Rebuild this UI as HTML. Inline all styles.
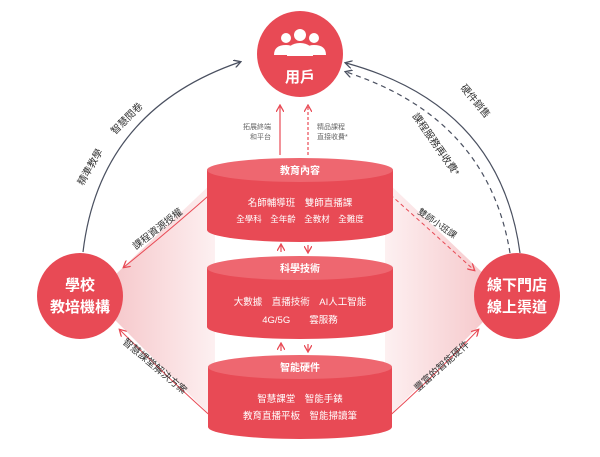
<!DOCTYPE html>
<html><head><meta charset="utf-8"><style>
body{margin:0;background:#fff;}
svg{display:block;font-family:"Liberation Sans","Noto Sans CJK TC",sans-serif;}
</style></head><body>
<svg width="600" height="457" viewBox="0 0 600 457" xmlns="http://www.w3.org/2000/svg">
<defs>
<linearGradient id="gl" x1="0" x2="1"><stop offset="0" stop-color="#f6c9cc"/><stop offset="1" stop-color="#fdf0f1"/></linearGradient>
<linearGradient id="gr" x1="1" x2="0"><stop offset="0" stop-color="#f6c9cc"/><stop offset="1" stop-color="#fdf0f1"/></linearGradient>
<marker id="ad" markerWidth="8" markerHeight="8" refX="6" refY="4" orient="auto" markerUnits="userSpaceOnUse"><path d="M0,0 L7,4 L0,8" fill="none" stroke="#4a5060" stroke-width="1.3"/></marker>
<marker id="ar" markerWidth="8" markerHeight="8" refX="6" refY="4" orient="auto" markerUnits="userSpaceOnUse"><path d="M0,0 L7,4 L0,8" fill="none" stroke="#e84a55" stroke-width="1.3"/></marker>
</defs>
<!-- pink fans -->
<polygon points="115,275 215,180 215,420 115,320" fill="url(#gl)"/>
<polygon points="485,275 385,180 385,420 485,320" fill="url(#gr)"/>
<!-- red connectors -->
<path d="M215,190 Q170,230 124,267" fill="none" stroke="#e84a55" stroke-width="1" marker-end="url(#ar)"/>
<path d="M215,420 Q170,380 120,330" fill="none" stroke="#e84a55" stroke-width="1" marker-end="url(#ar)"/>
<path d="M385,190 Q430,230 474,270" fill="none" stroke="#e84a55" stroke-width="1" stroke-dasharray="4,3" marker-end="url(#ar)"/>
<path d="M385,420 Q430,380 478,330" fill="none" stroke="#e84a55" stroke-width="1" marker-end="url(#ar)"/>
<!-- big arcs -->
<path d="M83,252 Q100,110 240,62" fill="none" stroke="#4a5060" stroke-width="1.2" marker-end="url(#ad)"/>
<path d="M520,253 Q500,105 346,63" fill="none" stroke="#4a5060" stroke-width="1.2" marker-end="url(#ad)"/>
<path d="M510,253 Q488,118 346,72" fill="none" stroke="#4a5060" stroke-width="1.2" stroke-dasharray="5,4" marker-end="url(#ad)"/>
<!-- vertical arrows to user -->
<line x1="280" y1="155" x2="280" y2="106" stroke="#e84a55" stroke-width="1.2" marker-end="url(#ar)"/>
<line x1="308" y1="155" x2="308" y2="106" stroke="#e84a55" stroke-width="1.2" stroke-dasharray="3,2" marker-end="url(#ar)"/>
<text x="271" y="129" font-size="7" fill="#666" text-anchor="end">拓展終端</text>
<text x="271" y="139" font-size="7" fill="#666" text-anchor="end">和平台</text>
<text x="317" y="129" font-size="7" fill="#666">精品課程</text>
<text x="317" y="139" font-size="7" fill="#666">直接收費*</text>
<!-- circles -->
<circle cx="300" cy="54" r="43" fill="#e84a55"/>
<g fill="#fff">
<circle cx="286" cy="38" r="5"/><circle cx="314" cy="38" r="5"/><circle cx="300" cy="35" r="6"/>
<path d="M274,55 q0,-10 12,-10 q10,0 12,10z"/><path d="M302,55 q2,-10 12,-10 q12,0 12,10z"/><path d="M287,56 q0,-13 13,-13 q13,0 13,13z"/>
</g>
<text x="300" y="82" font-size="15" font-weight="bold" fill="#fff" text-anchor="middle">用戶</text>
<circle cx="80" cy="296" r="43" fill="#e84a55"/>
<text x="80" y="290" font-size="15" font-weight="bold" fill="#fff" text-anchor="middle">學校</text>
<text x="80" y="312" font-size="15" font-weight="bold" fill="#fff" text-anchor="middle">教培機構</text>
<circle cx="517" cy="296" r="43" fill="#e84a55"/>
<text x="517" y="290" font-size="15" font-weight="bold" fill="#fff" text-anchor="middle">線下門店</text>
<text x="517" y="312" font-size="15" font-weight="bold" fill="#fff" text-anchor="middle">線上渠道</text>
<!-- cylinders -->
<g>
<path d="M207,170 L207,230 A93,12 0 0 0 393,230 L393,170z" fill="#e84a55"/>
<ellipse cx="300" cy="170" rx="93" ry="12" fill="#ee6770"/>
<text x="300" y="174" font-size="10" font-weight="bold" fill="#fff" text-anchor="middle">教育內容</text>
<text x="300" y="206" font-size="9.5" fill="#fff" text-anchor="middle">名師輔導班　雙師直播課</text>
<text x="300" y="222" font-size="8.5" fill="#fff" text-anchor="middle">全學科　全年齡　全教材　全難度</text>
</g>
<g>
<path d="M207,268 L207,327 A93,12 0 0 0 393,327 L393,268z" fill="#e84a55"/>
<ellipse cx="300" cy="268" rx="93" ry="12" fill="#ee6770"/>
<text x="300" y="272" font-size="10" font-weight="bold" fill="#fff" text-anchor="middle">科學技術</text>
<text x="300" y="305" font-size="9.5" fill="#fff" text-anchor="middle">大數據　直播技術　AI人工智能</text>
<text x="300" y="323" font-size="9.5" fill="#fff" text-anchor="middle">4G/5G　　雲服務</text>
</g>
<g>
<path d="M208,367 L208,427 A92,12 0 0 0 392,427 L392,367z" fill="#e84a55"/>
<ellipse cx="300" cy="367" rx="92" ry="12" fill="#ee6770"/>
<text x="300" y="371" font-size="10" font-weight="bold" fill="#fff" text-anchor="middle">智能硬件</text>
<text x="300" y="402" font-size="9.5" fill="#fff" text-anchor="middle">智慧課堂　智能手錶</text>
<text x="300" y="419" font-size="9.5" fill="#fff" text-anchor="middle">教育直播平板　智能掃讀筆</text>
</g>
<!-- small arrows between cylinders -->
<g stroke="#e84a55" stroke-width="1.2">
<line x1="281" y1="252" x2="281" y2="245" marker-end="url(#ar)"/><line x1="308" y1="245" x2="308" y2="252" marker-end="url(#ar)"/>
<line x1="281" y1="351" x2="281" y2="344" marker-end="url(#ar)"/><line x1="308" y1="344" x2="308" y2="351" marker-end="url(#ar)"/>
</g>
<!-- labels -->
<g font-size="10" fill="#333">
<text transform="translate(83,186) rotate(-60)">精準教學</text>
<text transform="translate(115,135) rotate(-45)">智慧閱卷</text>
<text transform="translate(136,250) rotate(-38)">課程資源授權</text>
<text transform="translate(122,343) rotate(40)">智慧課堂解決方案</text>
<text transform="translate(460,88) rotate(50)">硬件銷售</text>
<text transform="translate(412,116) rotate(55)">課程服務再收費*</text>
<text transform="translate(417,213) rotate(35)" font-size="9">雙師小班課</text>
<text transform="translate(418,392) rotate(-42)">豐富的智能硬件</text>
</g>
</svg>
</body></html>
